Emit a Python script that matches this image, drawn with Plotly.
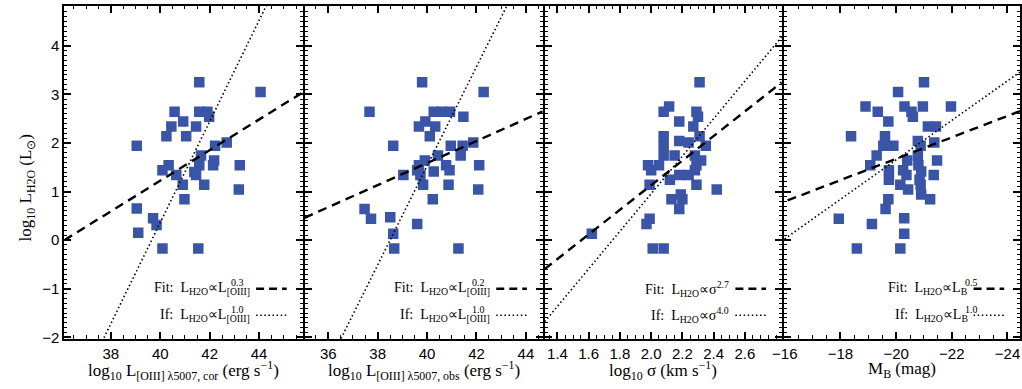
import numpy as np
import plotly.graph_objects as go

# ---------------- data ----------------
p1_x = [41.58, 44.06, 40.58, 41.58, 41.91, 41.98, 40.93, 40.45, 41.45, 40.25,
        41.05, 42.22, 42.69, 41.65, 40.34, 40.09, 41.58, 42.18, 42.14, 43.22,
        40.65, 41.38, 41.45, 40.91, 41.78, 43.18, 40.98, 39.05, 39.11, 39.71,
        39.85, 39.05, 40.09, 41.54]
p1_y = [3.25, 3.05, 2.64, 2.64, 2.64, 2.54, 2.44, 2.34, 2.34, 2.14,
        2.14, 1.94, 2.01, 1.74, 1.54, 1.44, 1.54, 1.64, 1.54, 1.54,
        1.34, 1.40, 1.34, 1.14, 1.14, 1.04, 0.84, 0.65, 0.15, 0.45,
        0.31, 1.94, -0.17, -0.17]

p2_x = [39.8, 42.29, 37.67, 40.27, 40.6, 40.93, 39.93, 41.47, 39.67, 40.33,
        40.11, 38.63, 40.96, 41.44, 41.87, 41.36, 40.44, 39.91, 40.77, 39.67,
        39.6, 39.73, 40.91, 40.27, 42.11, 39.04, 39.84, 40.87, 42.07, 40.23,
        37.47, 37.73, 38.51, 39.6, 38.63, 38.67, 41.27]
p2_y = [3.25, 3.05, 2.64, 2.64, 2.64, 2.64, 2.44, 2.54, 2.34, 2.34,
        2.14, 1.94, 1.94, 1.94, 2.01, 1.74, 1.74, 1.64, 1.54, 1.54,
        1.44, 1.34, 1.44, 1.41, 1.54, 1.34, 1.14, 1.14, 1.04, 0.84,
        0.64, 0.44, 0.47, 0.33, 0.13, -0.17, -0.17]

p3_x = [2.31, 2.115, 2.08, 2.29, 2.30, 2.18, 2.27, 2.08, 2.31, 2.18,
        2.24, 2.35, 2.08, 2.08, 2.15, 2.28, 2.32, 1.98, 2.05, 2.29,
        2.0, 2.28, 2.12, 2.18, 2.24, 1.99, 2.29, 2.42, 2.13, 2.20,
        2.19, 2.18, 1.99, 1.97, 1.62, 2.01, 2.08]
p3_y = [3.25, 2.75, 2.64, 2.64, 2.54, 2.44, 2.34, 2.14, 2.14, 2.04,
        2.01, 1.94, 1.94, 1.74, 1.74, 1.74, 1.64, 1.54, 1.54, 1.54,
        1.44, 1.44, 1.24, 1.34, 1.34, 1.14, 1.14, 1.04, 0.84, 0.84,
        0.94, 0.64, 0.44, 0.33, 0.13, -0.17, -0.17]

p4_x = [-21.0, -20.07, -18.9, -19.34, -20.3, -20.55, -20.6, -20.96, -21.97, -19.72,
        -21.14, -21.43, -18.38, -19.6, -20.78, -21.37, -19.54, -19.9, -20.88, -19.3,
        -20.78, -20.4, -21.47, -19.07, -20.8, -19.74, -20.25, -20.9, -19.74, -20.37,
        -21.35, -20.84, -20.15, -20.88, -20.43, -20.9, -21.22, -19.72, -19.62, -17.94,
        -20.29, -19.13, -20.29, -18.59, -20.15]
p4_y = [3.25, 3.05, 2.75, 2.64, 2.75, 2.64, 2.54, 2.75, 2.75, 2.44,
        2.34, 2.34, 2.14, 2.14, 2.04, 2.01, 1.94, 1.94, 1.94, 1.74,
        1.74, 1.64, 1.64, 1.54, 1.54, 1.44, 1.44, 1.41, 1.24, 1.34,
        1.34, 1.24, 1.14, 1.14, 1.04, 0.94, 0.84, 0.84, 0.64, 0.44,
        0.45, 0.33, 0.13, -0.17, -0.17]

# fit (dashed) and "if" (dotted) relations: anchor point + slope
fit_x0 = [36.12, 35.04, 1.32, -15.93]
fit_y0 = [0.0, 0.46, -0.59, 0.78]
fit_slope = [0.315, 0.227, 2.53, -0.22]
if_x0 = [37.73, 36.6, 1.32, -15.93]
if_y0 = [-2.0, -1.94, -1.67, 0.0]
if_slope = [1.04, 1.02, 3.86, -0.406]

fit_exp = ["0.3", "0.2", "2.7", "0.5"]
if_exp = ["1.0", "1.0", "4.0", "1.0"]

x_tickvals = [[38, 40, 42, 44], [36, 38, 40, 42, 44],
              [1.4, 1.6, 1.8, 2.0, 2.2, 2.4, 2.6], [-16, -18, -20, -22, -24]]
y_tickvals = [-2, -1, 0, 1, 2, 3, 4]

x_titles = [
    "log<sub>10</sub> L<sub>[OIII] \u03bb5007, cor</sub> (erg s<sup>\u22121</sup>)",
    "log<sub>10</sub> L<sub>[OIII] \u03bb5007, obs</sub> (erg s<sup>\u22121</sup>)",
    "log<sub>10</sub> \u03c3 (km s<sup>\u22121</sup>)",
    "M<sub>B</sub> (mag)",
]
y_title = "log<sub>10</sub> L<sub>H2O</sub> (L<sub>\u2299</sub>)"

# ---------------- layout geometry ----------------
W, H = 1022, 389
panels_px = [(53, 294), (296, 537), (539, 779), (781, 1020)]
top_px, bot_px = 6, 345
x_ranges = [[36.12, 45.76], [35.04, 44.68], [1.318, 2.837], [-15.966, -24.45]]
y_range = [-2.03, 4.82]
minor_dt = [0.5, 0.5, 0.05, 0.5]

BLUE = "#3A55A6"
SERIF = "Liberation Serif, Times New Roman, serif"
SANS = "Liberation Sans, Arial, sans-serif"

def px2x(p):
    return p / W

def py2y(p):
    return 1 - p / H

fig = go.Figure()
xs_data = [p1_x, p2_x, p3_x, p4_x]
ys_data = [p1_y, p2_y, p3_y, p4_y]

layout = dict(
    width=W, height=H, margin=dict(l=0, r=0, t=0, b=0),
    paper_bgcolor="white", plot_bgcolor="white", showlegend=False,
)

for i in range(4):
    k = "" if i == 0 else str(i + 1)
    xa, ya = "x" + k, "y" + k
    lo, hi = x_ranges[i]
    # data
    fig.add_trace(go.Scatter(x=xs_data[i], y=ys_data[i], mode="markers",
                             marker=dict(symbol="square", size=10.5, color=BLUE,
                                         line=dict(width=0)),
                             xaxis=xa, yaxis=ya, cliponaxis=True))
    lx = np.linspace(min(lo, hi), max(lo, hi), 50)
    fig.add_trace(go.Scatter(x=lx, y=fit_y0[i] + fit_slope[i] * (lx - fit_x0[i]),
                             mode="lines", line=dict(color="black", width=2.4, dash="9px,6px"),
                             xaxis=xa, yaxis=ya))
    fig.add_trace(go.Scatter(x=lx, y=if_y0[i] + if_slope[i] * (lx - if_x0[i]),
                             mode="lines", line=dict(color="black", width=1.6, dash="1.5px,2.6px"),
                             xaxis=xa, yaxis=ya))

    l_px, r_px = panels_px[i]
    if i == 2:
        ticktext = [f"{v:.1f}" for v in x_tickvals[i]]
    else:
        ticktext = [str(v).replace("-", "\u2212") for v in x_tickvals[i]]
    layout["xaxis" + k] = dict(
        domain=[px2x(l_px), px2x(r_px)], range=[lo, hi], anchor=ya,
        tickvals=x_tickvals[i], ticktext=ticktext,
        ticks="inside", ticklen=7, tickwidth=1.5, tickcolor="black",
        minor=dict(ticks="inside", ticklen=3.5, tickwidth=1, dtick=minor_dt[i], tick0=0,
                   tickcolor="black", showgrid=False),
        showline=True, linewidth=2, linecolor="black", mirror="allticks",
        showgrid=False, zeroline=False,
        tickfont=dict(family=SANS, size=15, color="black"),
    )
    layout["yaxis" + k] = dict(
        domain=[py2y(bot_px), py2y(top_px)], range=y_range, anchor=xa,
        tickvals=y_tickvals, ticktext=[str(v).replace("-", "\u2212") for v in y_tickvals],
        showticklabels=(i == 0),
        ticks="inside", ticklen=7, tickwidth=1.5, tickcolor="black",
        minor=dict(ticks="inside", ticklen=3, tickwidth=1, dtick=0.1, tick0=0,
                   tickcolor="black", showgrid=False),
        showline=True, linewidth=2, linecolor="black", mirror="allticks",
        showgrid=False, zeroline=False,
        tickfont=dict(family=SANS, size=15, color="black"),
    )

annotations = []
shapes = []
fit_row, if_row = 294, 321
for i in range(4):
    l_px, r_px = panels_px[i]
    cx = (l_px + r_px) / 2
    annotations.append(dict(text=x_titles[i], x=px2x(cx), y=py2y(377), xref="paper", yref="paper",
                            xanchor="center", yanchor="middle", showarrow=False,
                            font=dict(family=SERIF, size=17, color="black")))
    text_end = r_px - 51
    s0, s1 = r_px - 47, r_px - 16
    for row, lab, exp, dash, lw in [(fit_row, "Fit:", fit_exp[i], "8px,5px", 2.6),
                                    (if_row, "If:", if_exp[i], "1.5px,2.6px", 1.6)]:
        if i == 2:
            txt = f"{lab}\u00a0\u00a0L<sub>H2O</sub>\u221d\u03c3<sup>{exp}</sup>"
            annotations.append(dict(text=txt, x=px2x(text_end), y=py2y(row), xref="paper",
                                    yref="paper", xanchor="right", yanchor="middle",
                                    showarrow=False, font=dict(family=SERIF, size=14, color="black")))
        else:
            sub = "[OIII]" if i < 2 else "B"
            wsub = 23 if i < 2 else 7
            txt = f"{lab}\u00a0\u00a0L<sub>H2O</sub>\u221dL<sub>{sub}</sub>"
            annotations.append(dict(text=txt, x=px2x(text_end), y=py2y(row), xref="paper",
                                    yref="paper", xanchor="right", yanchor="middle",
                                    showarrow=False, font=dict(family=SERIF, size=14, color="black")))
            annotations.append(dict(text=exp, x=px2x(text_end - wsub), y=py2y(row - 6),
                                    xref="paper", yref="paper", xanchor="left", yanchor="middle",
                                    showarrow=False, font=dict(family=SERIF, size=10, color="black")))
        shapes.append(dict(type="line", xref="paper", yref="paper",
                           x0=px2x(s0), x1=px2x(s1), y0=py2y(row), y1=py2y(row),
                           line=dict(color="black", width=lw, dash=dash)))

annotations.append(dict(text=y_title, x=px2x(15), y=py2y(191), xref="paper", yref="paper",
                        xanchor="center", yanchor="middle", textangle=-90, showarrow=False,
                        font=dict(family=SERIF, size=17, color="black")))

layout["annotations"] = annotations
layout["shapes"] = shapes
fig.update_layout(**layout)
fig.write_html("out.html")
